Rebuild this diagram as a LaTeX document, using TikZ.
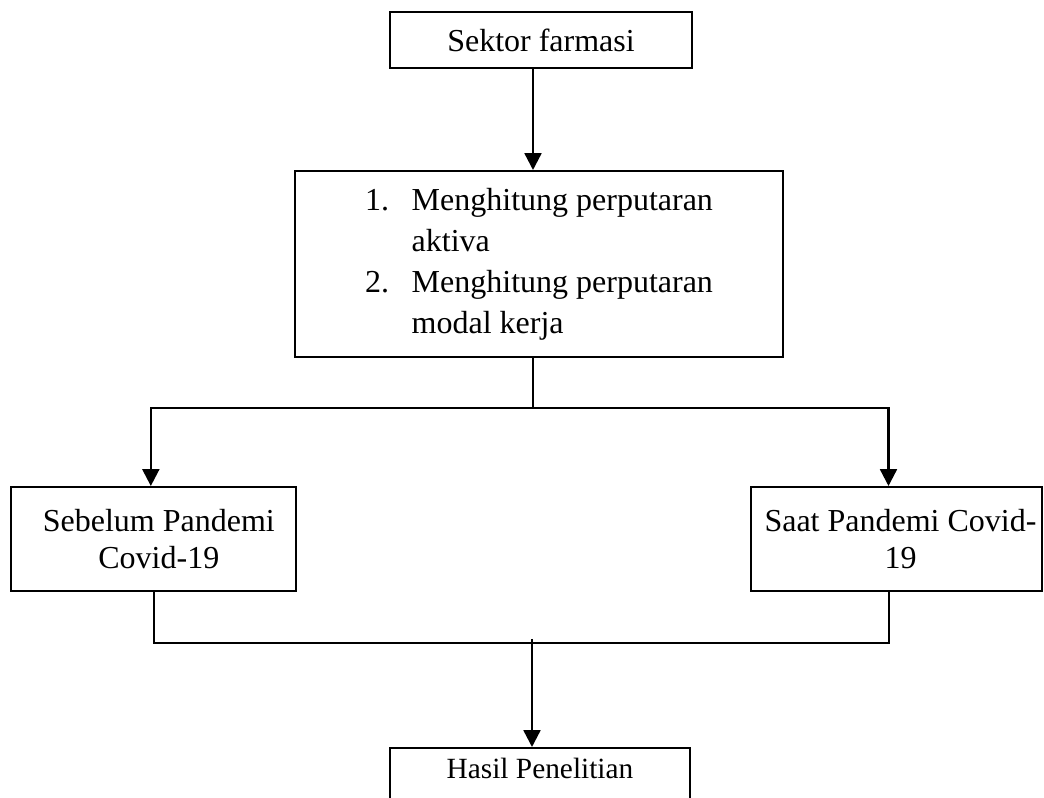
\documentclass[tikz,border=0pt]{standalone}
\usepackage{fontspec}
\setmainfont{Liberation Serif}
\usetikzlibrary{arrows.meta}
\usetikzlibrary{positioning}
\tikzset{box/.style = {draw, line width=0.75pt, align=center, inner sep=0pt},
         arr/.style = {line width=0.9pt, -{Triangle[width=6.3pt, length=6.3pt]}}}

\begin{document}
\begin{tikzpicture}[x=0.375pt, y=-0.375pt, line width=0.75pt,
                    font=\fontsize{12}{13.6}\selectfont]
    \useasboundingbox (0, 0) rectangle (1044, 798);

    \node [box, minimum width=113.25pt, minimum height=21pt] (sektor) at (541, 40) {Sektor farmasi};
    \node [box, minimum width=183pt, minimum height=69.75pt,
           font=\fontsize{12}{15.3}\selectfont] (hitung) at (539, 264) {%
        \begin{tabular}{@{}l@{\hspace{8.5pt}}l@{}}
            1. & Menghitung perputaran\\
               & aktiva\\
            2. & Menghitung perputaran\\
               & modal kerja
        \end{tabular}};
    \node [box, minimum width=106.9pt, minimum height=39pt] (sebelum) at (153.5, 539) {\hspace*{4pt}Sebelum Pandemi\\\hspace*{4pt}Covid-19};
    \node [box, minimum width=109.1pt, minimum height=39pt] (saat) at (896.5, 539) {\hspace*{3pt}Saat Pandemi Covid-\\\hspace*{3pt}19};
    \node [box, anchor=north, minimum width=112.5pt, text height=8pt, text depth=7.5pt,
           inner ysep=3.25pt, font=\fontsize{11}{13}\selectfont] (hasil) at (540, 747) {Hasil Penelitian};

    \coordinate (split) at (533, 408);
    \coordinate (join) at (532, 643);

    \draw [arr] (sektor.south -| split) -- (hitung.north -| split);
    \draw (hitung.south -| split) -- (split);
    \draw [arr] (split) -| ([xshift=-1pt]sebelum.north);
    \draw [arr] (split) -| ([xshift=-3pt]saat.north);

    \draw (sebelum.south) |- (join) -| ([xshift=-2.8pt]saat.south);
    \draw [arr] ([yshift=1.5pt]join) -- (join |- hasil.north);
\end{tikzpicture}
\end{document}
